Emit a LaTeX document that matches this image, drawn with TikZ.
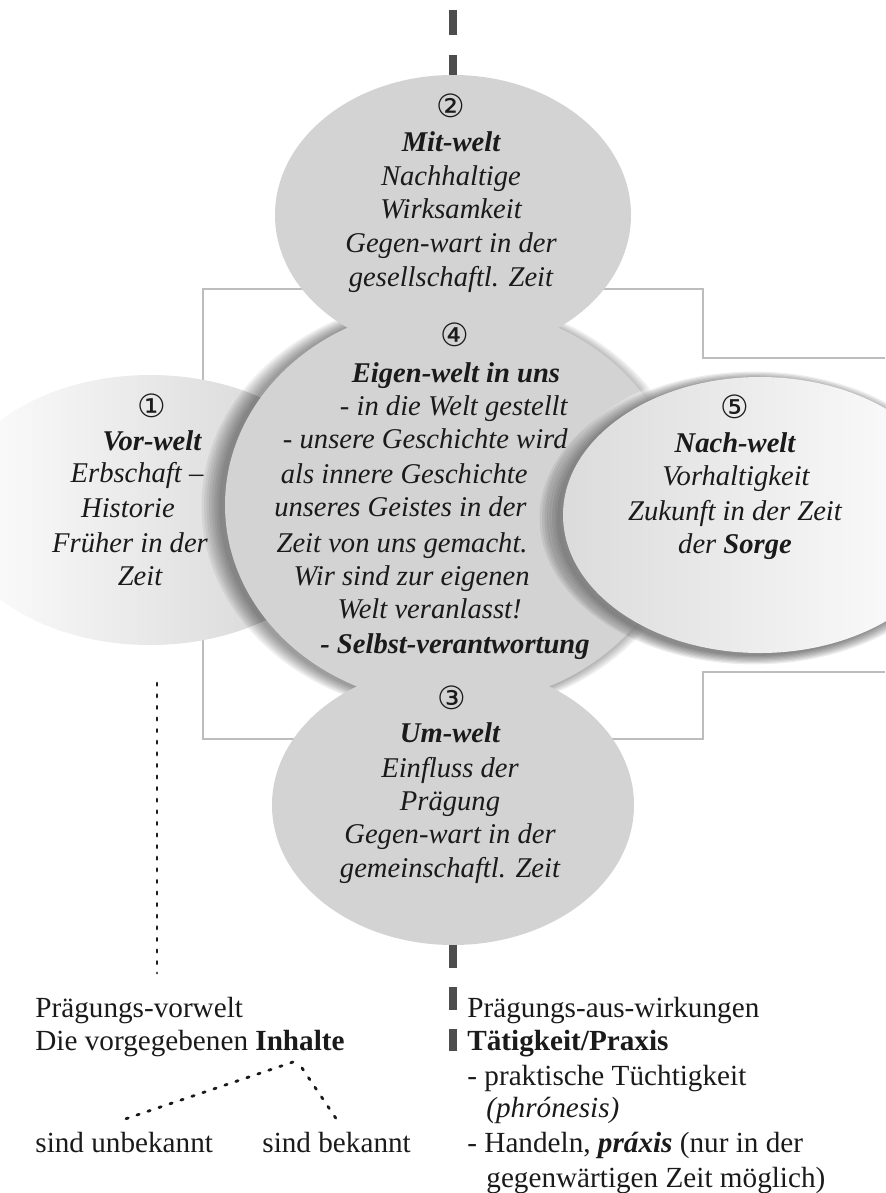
\documentclass[tikz,border=0pt]{standalone}
\usepackage{fontspec}
\setmainfont{Liberation Serif}
\newfontfamily\circfont{DejaVu Sans}
\usetikzlibrary{shapes.geometric}
\definecolor{ellgray}{HTML}{D3D3D3}
\definecolor{boxline}{HTML}{BDBDBD}
\definecolor{dashgray}{HTML}{4D4D4D}
\definecolor{txt}{HTML}{1A1A1A}
\tikzset{
  ell/.style={ellipse, inner sep=0pt, outer sep=0pt},
  flatell/.style={ell, fill=ellgray},
  itx/.style={font=\fontsize{14.3}{17}\selectfont\itshape, text=txt, inner sep=0pt, anchor=base},
  itr/.style={itx, anchor=base east},
  rmx/.style={font=\fontsize{14.6}{17}\selectfont, text=txt, inner sep=0pt, anchor=base west},
  num/.style={font=\circfont\fontsize{16}{16}\selectfont, text=txt, inner sep=0pt},
  frame/.style={draw=boxline, line width=0.75pt},
  bigdash/.style={draw=dashgray, line width=4.2pt},
  dots/.style={draw=txt, line width=1.4pt, line cap=round, dash pattern=on 1.2pt off 4.6pt},
}
\begin{document}
\begin{tikzpicture}[x=0.5pt,y=-0.5pt]
\useasboundingbox (0,0) rectangle (885,1193);
% frame lines behind the ellipses
\draw[frame] (885,358) -- (703,358) -- (703,289) -- (203,289) -- (203,739) -- (703,739) -- (703,672) -- (885,672);
% left ellipse
\node[ell, minimum width=200pt, minimum height=135pt, left color=white, right color=black!18] (e1) at (150,510) {};
% soft shadow of the centre ellipse
\foreach \i in {0,...,7} \fill[black, opacity=0.06] (447,506) ellipse [x radius={228+2.5*\i}, y radius={200+1.2*\i}];
% top and bottom ellipses
\node[flatell, minimum width=178pt, minimum height=140pt] (e2) at (453,215) {};
\node[flatell, minimum width=181pt, minimum height=140pt] (e3) at (453,805) {};
% centre ellipse
\node[flatell, minimum width=228pt, minimum height=200pt] (e4) at (453,505) {};
% glow and shadow of the right ellipse
\foreach \i in {1,...,5} \fill[white, opacity=0.25] (760,515) ellipse [x radius={197+3*\i}, y radius={138+2.5*\i}];
\foreach \i in {0,...,7} \fill[black, opacity=0.07] (754,518) ellipse [x radius={197+2.5*\i}, y radius={138+1.2*\i}];
\node[ell, minimum width=197pt, minimum height=138pt, left color=black!14, right color=white] (e5) at (760,515) {};
% thick dashed axis
\coordinate (topend) at (453,10);
\coordinate (botend) at (453,1051);
\draw[bigdash, dash pattern=on 12.5pt off 10pt] (topend) -- (e2.north);
\draw[bigdash, dash pattern=on 11.5pt off 9.5pt] (e3.south) -- (botend);
% texts ellipse 1
\node[num] (c1) at (152,406) {①};
\node[itx] (t1a) at (152,450) {\bfseries Vor-welt};
\node[itx] (t1b) at (137,482) {Erbschaft –};
\node[itx] (t1c) at (128,517) {Historie};
\node[itx] (t1d) at (130,552) {Früher in der};
\node[itx] (t1e) at (140,585) {Zeit};
% texts ellipse 2
\node[num] (c2) at (451,106) {②};
\node[itx] (t2a) at (451,151) {\bfseries Mit-welt};
\node[itx] (t2b) at (451,185) {Nachhaltige};
\node[itx] (t2c) at (451,218) {Wirksamkeit};
\node[itx] (t2d) at (451,252) {Gegen-wart in der};
\node[itx] (t2e) at (451,286) {gesellschaftl. Zeit};
% texts ellipse 4
\node[num] (c4) at (455,335) {④};
\node[itx] (t4a) at (456,382) {\bfseries Eigen-welt in uns};
\node[itr] (t4b) at (568,415) {- in die Welt gestellt};
\node[itr] (t4c) at (568,448) {- unsere Geschichte wird};
\node[itr] (t4d) at (528,483) {als innere Geschichte};
\node[itr] (t4e) at (527,516) {unseres Geistes in der};
\node[itr] (t4f) at (528,552) {Zeit von uns gemacht.};
\node[itr] (t4g) at (530,585) {Wir sind zur eigenen};
\node[itr] (t4h) at (522,618) {Welt veranlasst!};
\node[itx] (t4i) at (455,653) {\bfseries - Selbst-verantwortung};
% texts ellipse 5
\node[num] (c5) at (735,407) {⑤};
\node[itx] (t5a) at (735,452) {\bfseries Nach-welt};
\node[itx] (t5b) at (736,485) {Vorhaltigkeit};
\node[itx] (t5c) at (735,520) {Zukunft in der Zeit};
\node[itx] (t5d) at (735,553) {der \textbf{Sorge}};
% texts ellipse 3
\node[num] (c3) at (452,698) {③};
\node[itx] (t3a) at (450,742) {\bfseries Um-welt};
\node[itx] (t3b) at (450,777) {Einfluss der};
\node[itx] (t3c) at (450,810) {Prägung};
\node[itx] (t3d) at (450,843) {Gegen-wart in der};
\node[itx] (t3e) at (450,877) {gemeinschaftl. Zeit};
% bottom left
\node[rmx] (pv) at (35,1017) {Prägungs-vorwelt};
\node[rmx] (dv) at (35,1050) {Die vorgegebenen \textbf{Inhalte}};
\node[rmx] (unb) at (35,1152) {sind unbekannt};
\node[rmx] (bek) at (262,1152) {sind bekannt};
\coordinate (dtop) at (157,683);
\coordinate (dbot) at (157,973);
\draw[dots] (dtop) -- (dbot);
\coordinate (inhL) at (293,1062);
\coordinate (inhR) at (302,1068);
\draw[dots] (inhL) -- ([yshift=6pt]unb.north);
\draw[dots] (inhR) -- ([yshift=6pt]bek.north);
% bottom right
\node[rmx] (r1) at (467,1017) {Prägungs-aus-wirkungen};
\node[rmx] (r2) at (467,1050) {\textbf{Tätigkeit/Praxis}};
\node[rmx] (r3) at (467,1085) {- praktische Tüchtigkeit};
\node[rmx] (r4) at (486,1117) {\textit{(phrónesis)}};
\node[rmx] (r5) at (467,1152) {- Handeln, \textbf{\textit{práxis}} (nur in der};
\node[rmx] (r6) at (486,1187) {gegenwärtigen Zeit möglich)};
\end{tikzpicture}
\end{document}
